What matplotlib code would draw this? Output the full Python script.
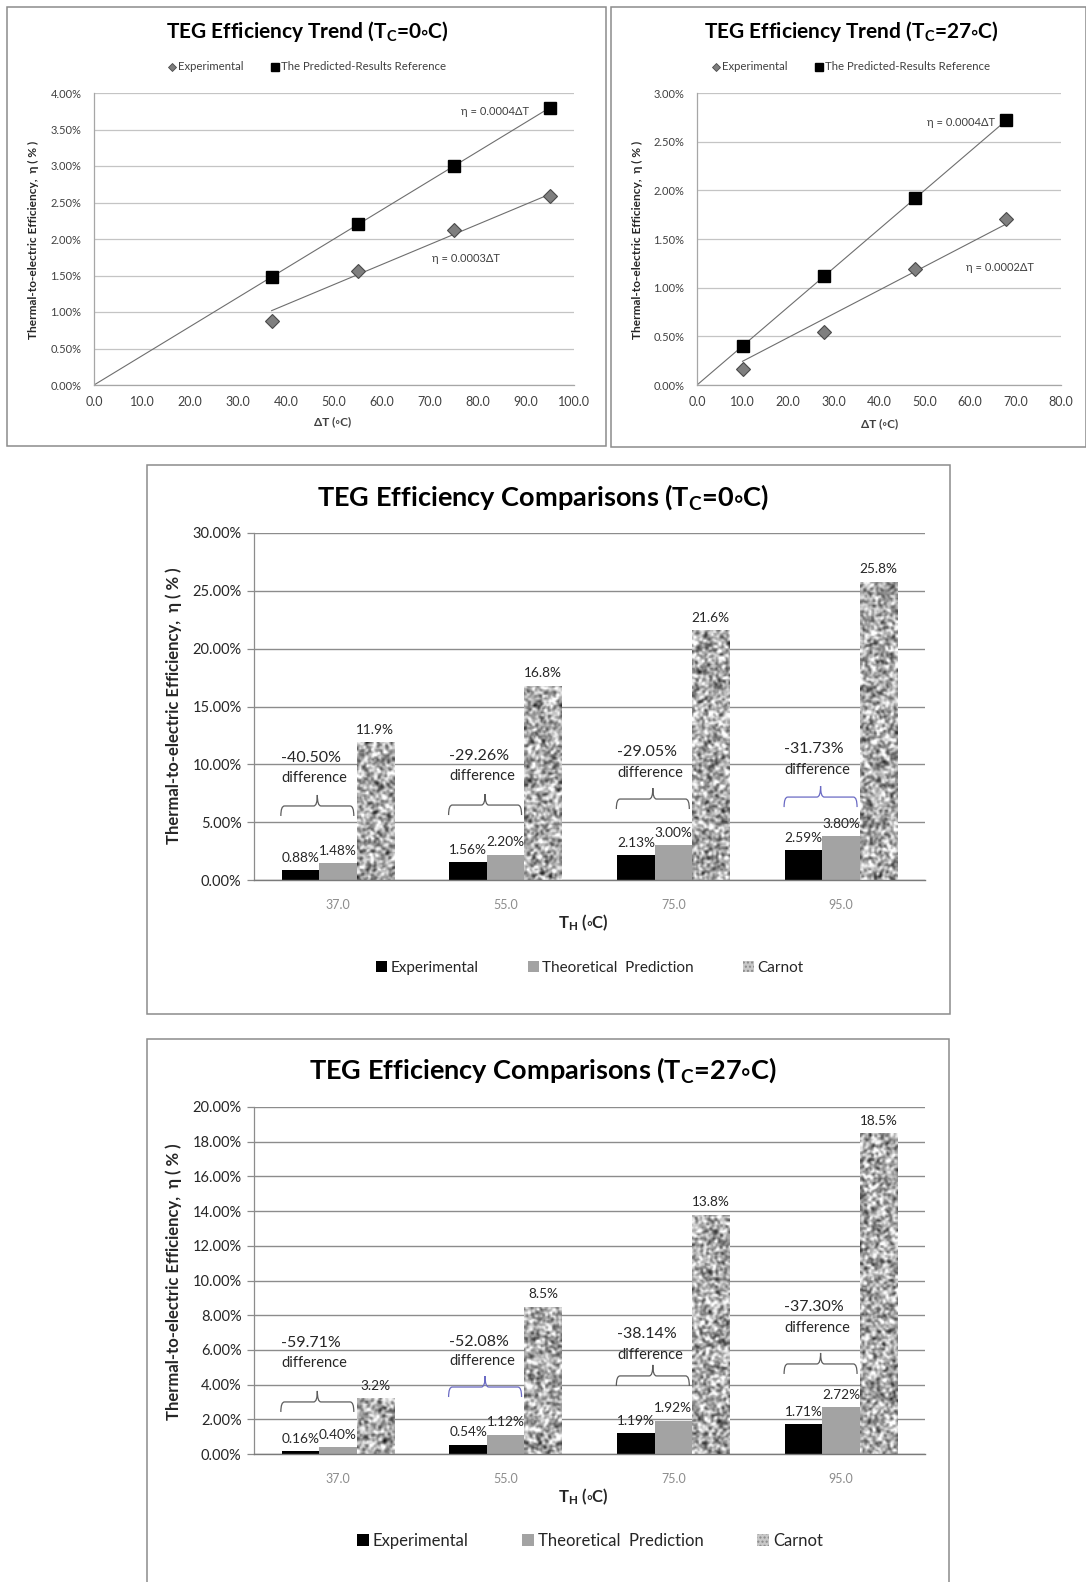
import numpy as np
import matplotlib
matplotlib.use("Agg")
import matplotlib.pyplot as plt
from matplotlib.patches import Rectangle, Patch, PathPatch
from matplotlib.lines import Line2D
from matplotlib.path import Path
from matplotlib.ticker import FuncFormatter, MultipleLocator

plt.rcParams['font.family'] = ['Lato', 'DejaVu Sans']
plt.rcParams['mathtext.fontset'] = 'custom'
plt.rcParams['mathtext.rm'] = 'Lato'
plt.rcParams['mathtext.bf'] = 'Lato:bold'
plt.rcParams['mathtext.it'] = 'Lato:italic'
plt.rcParams['mathtext.fallback'] = 'stixsans'
plt.rcParams['axes.unicode_minus'] = False

# ---- efficiency trend data (ΔT in °C, efficiency in %) ----
dt_c0 = [37.0, 55.0, 75.0, 95.0]
exp_c0 = [0.88, 1.56, 2.13, 2.59]
pred_c0 = [1.48, 2.20, 3.00, 3.80]

dt_c27 = [10.0, 28.0, 48.0, 68.0]
exp_c27 = [0.16, 0.54, 1.19, 1.71]
pred_c27 = [0.40, 1.12, 1.92, 2.72]

# ---- efficiency comparison data (T_H in °C, efficiency in %) ----
th_labels = ['37.0', '55.0', '75.0', '95.0']
carnot_c0 = [11.9, 16.8, 21.6, 25.8]
diff_c0 = ['-40.50%', '-29.26%', '-29.05%', '-31.73%']
carnot_c27 = [3.2, 8.5, 13.8, 18.5]
diff_c27 = ['-59.71%', '-52.08%', '-38.14%', '-37.30%']

W, H = 1086, 1582
fig = plt.figure(figsize=(W / 100, H / 100), dpi=100)
fig.patch.set_facecolor('white')


def fx(px):
    return px / W


def fy(py):
    return 1 - py / H


def rect_px(l, t, r, b):
    return [l / W, 1 - b / H, (r - l) / W, (b - t) / H]


def frame(l, t, r, b):
    fig.add_artist(Rectangle((fx(l), fy(b)), (r - l) / W, (b - t) / H,
                             transform=fig.transFigure, fill=False,
                             ec='#8c8c8c', lw=1.1))


TXT = '#262626'


# ---------------------------------------------------------------- trends
def trend_panel(box, ax_px, dt, exp, pred, xmax, ymax, tc,
                eq_pred_xy, eq_exp_xy, title_x, ylab_x, xlab_xy):
    frame(*box)
    ax = fig.add_axes(rect_px(*ax_px))
    ax.set_xlim(0, xmax)
    ax.set_ylim(0, ymax)
    ax.xaxis.set_major_locator(MultipleLocator(10))
    ax.yaxis.set_major_locator(MultipleLocator(0.5))
    ax.xaxis.set_major_formatter(FuncFormatter(lambda v, p: f"{v:.1f}"))
    ax.yaxis.set_major_formatter(FuncFormatter(lambda v, p: f"{v:.2f}%"))
    ax.tick_params(axis='both', length=0, colors='#404040')
    ax.tick_params(axis='x', labelsize=9, pad=8)
    ax.tick_params(axis='y', labelsize=8, pad=9)
    ax.grid(axis='y', color='#c4c4c4', lw=0.9)
    ax.set_axisbelow(True)
    for s in ('top', 'right'):
        ax.spines[s].set_visible(False)
    for s in ('left', 'bottom'):
        ax.spines[s].set_color('#a6a6a6')
        ax.spines[s].set_linewidth(0.9)

    x = np.asarray(dt)
    ye = np.asarray(exp)
    yp = np.asarray(pred)
    # least-squares trend lines forced through the origin
    kp = np.sum(x * yp) / np.sum(x * x)
    ke = np.sum(x * ye) / np.sum(x * x)
    xp_line = np.array([0.0, x.max()])
    xe_line = np.array([x.min(), x.max()])
    ax.plot(xp_line, kp * xp_line, color='#6e6e6e', lw=0.8, zorder=2)
    ax.plot(xe_line, ke * xe_line, color='#6e6e6e', lw=0.8, zorder=2)
    ax.plot(x, ye, ls='none', marker='D', ms=7, mfc='#7f7f7f', mec='#4a4a4a',
            mew=0.8, zorder=3)
    ax.plot(x, yp, ls='none', marker='s', ms=8, color='black', zorder=3)
    ax.text(*eq_pred_xy, f"η = {kp / 100:.4f}ΔT", ha='center', va='center',
            fontsize=8, color='#404040')
    ax.text(*eq_exp_xy, f"η = {ke / 100:.4f}ΔT", ha='center', va='center',
            fontsize=8, color='#404040')

    fig.text(fx(title_x), fy(32), r"TEG Efficiency Trend (T$_\mathbf{C}$=" + tc + r"$\circ$C)",
             ha='center', va='center', fontsize=15, fontweight='bold', color='black')
    handles = [Line2D([], [], ls='none', marker='D', ms=4.5, mfc='#7f7f7f', mec='#4a4a4a', mew=0.6),
               Line2D([], [], ls='none', marker='s', ms=5.5, color='black')]
    fig.legend(handles, ['Experimental', 'The Predicted-Results Reference'],
               loc='center', bbox_to_anchor=(fx(title_x), fy(67)), ncol=2,
               frameon=False, fontsize=8.2, handlelength=0.7, handletextpad=0.2,
               columnspacing=2.4, labelcolor='#404040')
    fig.text(fx(ylab_x), fy(240), "Thermal-to-electric Efficiency,  η ( % )",
             rotation=90, ha='center', va='center', fontsize=8.6,
             fontweight='bold', color=TXT)
    fig.text(fx(xlab_xy[0]), fy(xlab_xy[1]), "ΔT (◦C)", ha='center', va='center',
             fontsize=8.5, fontweight='bold', color='#404040')
    return ax


trend_panel((7, 7, 606, 446), (94, 93, 574, 385), dt_c0, exp_c0, pred_c0,
            100, 4.0, "0", (83.5, 3.74), (77.5, 1.73), 307, 33, (333, 422))
trend_panel((611, 7, 1086, 447), (697, 93, 1061, 385), dt_c27, exp_c27, pred_c27,
            80, 3.0, "27", (58.0, 2.70), (66.5, 1.21), 851, 637, (880, 424))


# ------------------------------------------------------------ comparisons
def granite(rows, cols, seed):
    """Speckled stone texture used to fill the Carnot bars."""
    rng = np.random.default_rng(seed)
    a = rng.random((rows + 2, cols + 2))
    a = (a[:-2] + 2 * a[1:-1] + a[2:]) / 4
    a = (a[:, :-2] + 2 * a[:, 1:-1] + a[:, 2:]) / 4
    return (a - a.mean()) / a.std()


def brace(ax, x0, x1, yflat, up, down, color):
    xm = (x0 + x1) / 2
    r = (x1 - x0) * 0.05
    verts = [(x0, yflat - down), (x0, yflat), (x0 + r, yflat),
             (xm - r, yflat), (xm, yflat), (xm, yflat + up),
             (xm, yflat), (xm + r, yflat),
             (x1 - r, yflat), (x1, yflat), (x1, yflat - down)]
    codes = [Path.MOVETO, Path.CURVE3, Path.CURVE3,
             Path.LINETO, Path.CURVE3, Path.CURVE3,
             Path.CURVE3, Path.CURVE3,
             Path.LINETO, Path.CURVE3, Path.CURVE3]
    ax.add_patch(PathPatch(Path(verts, codes), fill=False, ec=color, lw=0.9, zorder=4))


def comparison_panel(box, ax_px, exp, theo, carnot, diffs, ymax, ystep, tc,
                     brace_flat, txt1_y, txt2_y, brace_cols, title_y, ylab_y,
                     xlab_y, leg_y, leg_fs, seed):
    frame(*box)
    ax = fig.add_axes(rect_px(*ax_px))
    ax_h_px = ax_px[3] - ax_px[1]
    upp = ymax / ax_h_px
    n = len(th_labels)
    x = np.arange(n)
    w = 0.2235
    b1 = ax.bar(x - w, exp, w, color='black', zorder=2)
    b2 = ax.bar(x, theo, w, color='#a3a3a3', zorder=2)
    b3 = ax.bar(x + w, carnot, w, color='#a8a8a8', zorder=2)
    for i, rect in enumerate(b3):
        rows = max(6, int(rect.get_height() / upp / 1.4))
        tex = granite(rows, 27, seed + i)
        im = ax.imshow(tex, extent=(rect.get_x(), rect.get_x() + rect.get_width(),
                                    0, rect.get_height()),
                       origin='lower', cmap='gray', vmin=-3.9, vmax=1.9,
                       aspect='auto', interpolation='bilinear', zorder=2.5)
        im.set_clip_path(rect)
    ax.set_xlim(-0.5, n - 0.5)
    ax.set_ylim(0, ymax)
    ax.set_aspect('auto')

    for bars, fmt in ((b1, "{:.2f}%"), (b2, "{:.2f}%"), (b3, "{:.1f}%")):
        for rect in bars:
            v = rect.get_height()
            ax.annotate(fmt.format(v), (rect.get_x() + rect.get_width() / 2, v),
                        xytext=(0, 4.5), textcoords='offset points', ha='center',
                        va='bottom', fontsize=9.8, color=TXT, zorder=5)

    for i in range(n):
        brace(ax, i - 0.34, i + 0.095, brace_flat[i], 11 * upp, 10 * upp, brace_cols[i])
        ax.text(i - 0.16, txt1_y[i], diffs[i], ha='center', va='center',
                fontsize=11.5, color=TXT, zorder=5)
        ax.text(i - 0.14, txt2_y[i], 'difference', ha='center', va='center',
                fontsize=10.5, color=TXT, zorder=5)

    ax.yaxis.set_major_locator(MultipleLocator(ystep))
    ax.yaxis.set_major_formatter(FuncFormatter(lambda v, p: f"{v:.2f}%"))
    ax.set_xticks(x)
    ax.set_xticklabels(th_labels)
    ax.tick_params(axis='x', length=0, pad=14, labelsize=9, labelcolor='#8c8c8c')
    ax.tick_params(axis='y', length=5, width=0.9, color='#8c8c8c', pad=4,
                   labelsize=10.5, labelcolor=TXT)
    ax.grid(axis='y', color='#8c8c8c', lw=1.0)
    ax.set_axisbelow(True)
    for s in ('top', 'right'):
        ax.spines[s].set_visible(False)
    ax.spines['left'].set_color('#8c8c8c')
    ax.spines['bottom'].set_color('#7a7a7a')
    ax.spines['left'].set_linewidth(0.9)
    ax.spines['bottom'].set_linewidth(1.0)

    fig.text(fx(543), fy(title_y), r"TEG Efficiency Comparisons (T$_\mathbf{C}$=" + tc + r"$\circ$C)",
             ha='center', va='center', fontsize=19.5, fontweight='bold', color='black')
    fig.text(fx(174), fy(ylab_y), "Thermal-to-electric Efficiency,  η ( % )",
             rotation=90, ha='center', va='center', fontsize=12,
             fontweight='bold', color=TXT)
    fig.text(fx(583), fy(xlab_y), r"T$_\mathbf{H}$ ($\circ$C)", ha='center', va='center',
             fontsize=12, fontweight='bold', color=TXT)
    handles = [Patch(fc='black', ec='none'),
               Patch(fc='#a3a3a3', ec='none'),
               Patch(fc='#c8c8c8', ec='#8a8a8a', hatch='....', lw=0)]
    fig.legend(handles, ['Experimental', 'Theoretical  Prediction', 'Carnot'],
               loc='center', bbox_to_anchor=(fx(590), fy(leg_y)), ncol=3,
               frameon=False, fontsize=leg_fs, handlelength=0.7, handleheight=0.7,
               handletextpad=0.25, columnspacing=3.2, labelcolor=TXT)
    return ax


dark = '#5c5c5c'
blue = '#6a6ac4'
comparison_panel((147, 465, 950, 1014), (254, 533, 925, 880),
                 exp_c0, pred_c0, carnot_c0, diff_c0, 30, 5, "0",
                 [6.40, 6.48, 7.00, 7.17], [10.54, 10.72, 11.06, 11.32],
                 [8.82, 8.99, 9.25, 9.51], [dark, dark, dark, blue],
                 497, 706, 923, 968, 11, 11)
comparison_panel((147, 1039, 949, 1590), (254, 1107, 925, 1454),
                 exp_c27, pred_c27, carnot_c27, diff_c27, 20, 2, "27",
                 [3.00, 3.86, 4.50, 5.19], [6.40, 6.46, 6.92, 8.47],
                 [5.24, 5.36, 5.71, 7.26], [dark, blue, dark, dark],
                 1070, 1282, 1497, 1541, 12, 31)

fig.savefig('out.png', dpi=100, facecolor='white')
